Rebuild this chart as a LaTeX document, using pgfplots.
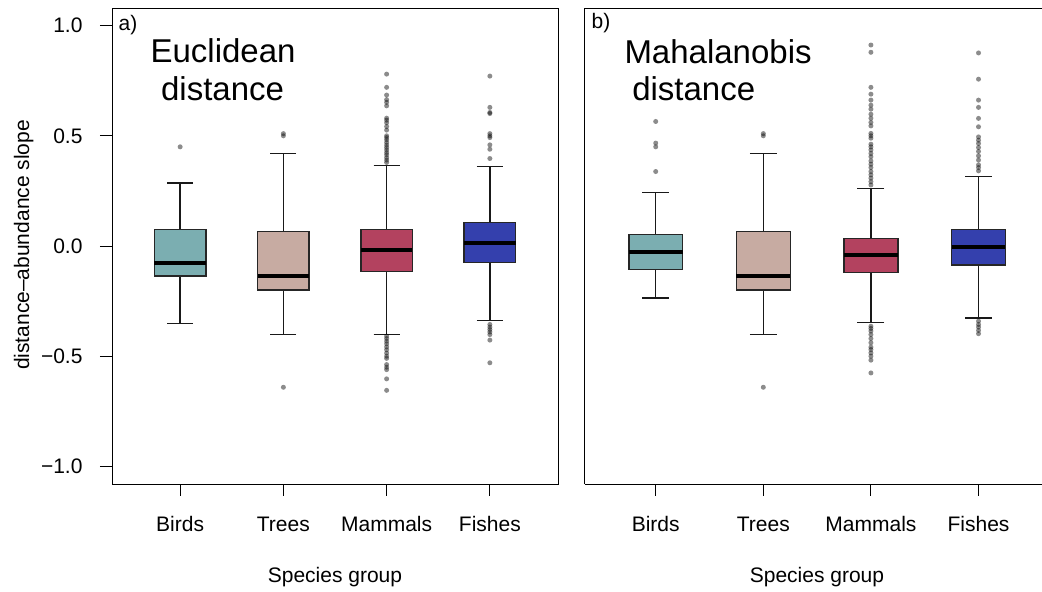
\documentclass[border=0pt]{standalone}
\usepackage{fontspec}
\setmainfont{Liberation Sans}
\usepackage{pgfplots}
\pgfplotsset{compat=1.18}
\usepgfplotslibrary{statistics}
\definecolor{cbird}{HTML}{7BAEB1}
\definecolor{ctree}{HTML}{C7ABA2}
\definecolor{cmam}{HTML}{B3425F}
\definecolor{cfish}{HTML}{3440AD}
\newcommand\basefs{\fontsize{21bp}{25bp}\selectfont}
\newcommand\bigfs{\fontsize{33bp}{38bp}\selectfont}
\pgfplotsset{
  panel/.style={scale only axis, height=476bp, ymin=-1.08, ymax=1.08, xmin=0.34,
    xtick={1,2,3,4}, xticklabels={Birds,Trees,Mammals,Fishes},
    tick align=outside, major tick length=12bp,
    xtick pos=left, ytick pos=left,
    tick style={black, line width=0.9bp},
    axis line style={black, line width=0.9bp},
    ticklabel style={font=\basefs},
    xticklabel style={text height=15bp, text depth=4.5bp, yshift=-17bp},
    yticklabel style={xshift=-14bp},
    boxplot/draw direction=y,
    boxplot/every median/.style={draw=black, line width=4bp},
    boxplot/every whisker/.style={draw=black!90, line width=1.4bp},
    boxplot/every box/.style={draw=black!85, line width=1.4bp},
  },
  bp/.style n args={6}{boxplot prepared={draw position=#1, lower whisker=#2,
    lower quartile=#3, median=#4, upper quartile=#5, upper whisker=#6,
    box extend=0.5, whisker extend=0.25},
    draw=black!85, line width=1.4bp},
  out/.style={only marks, mark=*, mark size=2.5bp,
    mark options={draw=black, fill=black, draw opacity=0, fill opacity=0.45}},
}
\begin{document}
\begin{tikzpicture}[font=\basefs]
\useasboundingbox (0,0) rectangle (1042bp,592bp);
% ---------- panel a ----------
\begin{axis}[panel, at={(112bp,108bp)}, anchor=south west, width=446bp, xmax=4.66,
  ytick={-1,-0.5,0,0.5,1}, yticklabels={−1.0,−0.5,0.0,0.5,1.0}]
\addplot[bp={1}{-0.352}{-0.136}{-0.076}{0.076}{0.285}, fill=cbird] coordinates {};
\addplot[bp={2}{-0.402}{-0.200}{-0.135}{0.065}{0.421}, fill=ctree] coordinates {};
\addplot[bp={3}{-0.402}{-0.117}{-0.018}{0.076}{0.364}, fill=cmam] coordinates {};
\addplot[bp={4}{-0.338}{-0.076}{0.015}{0.106}{0.361}, fill=cfish] coordinates {};
\addplot[out] table[row sep=\\]{x y\\
 1 0.45\\
 2 0.51\\ 2 0.50\\ 2 -0.641\\
 3 0.78\\ 3 0.72\\ 3 0.685\\ 3 0.664\\ 3 0.652\\ 3 0.636\\ 3 0.58\\ 3 0.571\\ 3 0.559\\ 3 0.542\\ 3 0.526\\ 3 0.50\\ 3 0.492\\ 3 0.482\\ 3 0.47\\ 3 0.458\\ 3 0.447\\ 3 0.436\\ 3 0.424\\ 3 0.414\\ 3 0.401\\ 3 0.39\\ 3 0.379\\
 3 -0.409\\ 3 -0.42\\ 3 -0.432\\ 3 -0.444\\ 3 -0.458\\ 3 -0.471\\ 3 -0.486\\ 3 -0.50\\ 3 -0.51\\ 3 -0.538\\ 3 -0.55\\ 3 -0.561\\ 3 -0.603\\ 3 -0.655\\
 4 0.771\\ 4 0.629\\ 4 0.606\\ 4 0.601\\ 4 0.51\\ 4 0.50\\ 4 0.492\\ 4 0.459\\ 4 0.439\\ 4 0.397\\
 4 -0.356\\ 4 -0.368\\ 4 -0.379\\ 4 -0.39\\ 4 -0.402\\ 4 -0.427\\ 4 -0.53\\};
\node[anchor=base west, inner sep=0pt] at (axis cs:0.402,0.98) {a)};
\node[anchor=base west, inner sep=0pt, font=\bigfs] at (axis cs:0.712,0.833) {Euclidean};
\node[anchor=base west, inner sep=0pt, font=\bigfs] at (axis cs:0.814,0.659) {distance};
\end{axis}
% ---------- panel b ----------
\begin{axis}[panel, at={(584.7bp,108bp)}, anchor=south west, width=457.3bp, xmax=4.59,
  ytick=\empty, axis x line*=box, axis y line*=left, axis line style={-},
  xtick pos=left]
\addplot[bp={1}{-0.236}{-0.108}{-0.029}{0.053}{0.242}, fill=cbird] coordinates {};
\addplot[bp={2}{-0.402}{-0.200}{-0.135}{0.065}{0.421}, fill=ctree] coordinates {};
\addplot[bp={3}{-0.348}{-0.121}{-0.041}{0.035}{0.262}, fill=cmam] coordinates {};
\addplot[bp={4}{-0.326}{-0.086}{-0.003}{0.076}{0.315}, fill=cfish] coordinates {};
\addplot[out] table[row sep=\\]{x y\\
 1 0.565\\ 1 0.467\\ 1 0.45\\ 1 0.338\\
 2 0.51\\ 2 0.50\\ 2 -0.641\\
 3 0.912\\ 3 0.879\\ 3 0.72\\ 3 0.689\\ 3 0.662\\ 3 0.639\\ 3 0.621\\ 3 0.598\\ 3 0.58\\ 3 0.561\\ 3 0.545\\ 3 0.511\\ 3 0.50\\ 3 0.489\\ 3 0.462\\ 3 0.45\\ 3 0.436\\ 3 0.42\\ 3 0.405\\ 3 0.386\\ 3 0.371\\ 3 0.356\\ 3 0.338\\ 3 0.323\\ 3 0.308\\ 3 0.292\\ 3 0.277\\
 3 -0.364\\ 3 -0.374\\ 3 -0.386\\ 3 -0.402\\ 3 -0.42\\ 3 -0.439\\ 3 -0.459\\ 3 -0.47\\ 3 -0.485\\ 3 -0.50\\ 3 -0.518\\ 3 -0.576\\
 4 0.876\\ 4 0.757\\ 4 0.662\\ 4 0.629\\ 4 0.579\\ 4 0.541\\ 4 0.495\\ 4 0.48\\ 4 0.465\\ 4 0.447\\ 4 0.429\\ 4 0.409\\ 4 0.39\\ 4 0.368\\ 4 0.356\\ 4 0.341\\
 4 -0.341\\ 4 -0.356\\ 4 -0.368\\ 4 -0.383\\ 4 -0.398\\};
\node[anchor=base west, inner sep=0pt] at (axis cs:0.402,0.986) {b)};
\node[anchor=base west, inner sep=0pt, font=\bigfs] at (axis cs:0.708,0.826) {Mahalanobis};
\node[anchor=base west, inner sep=0pt, font=\bigfs] at (axis cs:0.78,0.659) {distance};
\end{axis}
% ---------- axis titles ----------
\node[rotate=90, anchor=base, inner sep=0pt] at (29bp,347bp) {distance–abundance slope};
\node[anchor=base, inner sep=0pt] at (335bp,9.3bp) {Species group};
\node[anchor=base, inner sep=0pt] at (817bp,9.3bp) {Species group};
\end{tikzpicture}
\end{document}
